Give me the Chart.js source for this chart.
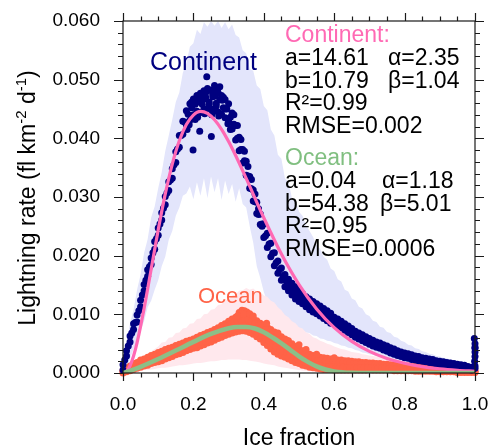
<!DOCTYPE html>
<html><head><meta charset="utf-8">
<script src="https://cdn.jsdelivr.net/npm/chart.js@4.4.1/dist/chart.umd.min.js"></script>
<style>html,body{margin:0;padding:0;background:#fff}#wrap{width:490px;height:447px;position:relative}</style>
</head><body><div id="wrap"><canvas id="c"></canvas></div>
<script>
// ice fraction grid (x)
const iceX=[
0,0.01,0.02,0.03,0.04,0.05,0.06,0.07,0.08,0.09,
0.10,0.11,0.12,0.13,0.14,0.15,0.16,0.17,0.18,0.19,
0.20,0.21,0.22,0.23,0.24,0.25,0.26,0.27,0.28,0.29,
0.30,0.31,0.32,0.33,0.34,0.35,0.36,0.37,0.38,0.39,
0.40,0.41,0.42,0.43,0.44,0.45,0.46,0.47,0.48,0.49,
0.50,0.51,0.52,0.53,0.54,0.55,0.56,0.57,0.58,0.59,
0.60,0.61,0.62,0.63,0.64,0.65,0.66,0.67,0.68,0.69,
0.70,0.71,0.72,0.73,0.74,0.75,0.76,0.77,0.78,0.79,
0.80,0.81,0.82,0.83,0.84,0.85,0.86,0.87,0.88,0.89,
0.90,0.91,0.92,0.93,0.94,0.95,0.96,0.97,0.98,0.99,
1.00];
// in-between ice fractions (x) for the extra rows of points
const midX=[
0.005,0.015,0.025,0.035,0.045,0.055,0.065,0.075,0.085,0.095,
0.105,0.115,0.125,0.135,0.145,0.155,0.165,0.175,0.185,0.195,
0.205,0.215,0.225,0.235,0.245,0.255,0.265,0.275,0.285,0.295,
0.305,0.315,0.325,0.335,0.345,0.355,0.365,0.375,0.385,0.395,
0.405,0.415,0.425,0.435,0.445,0.455,0.465,0.475,0.485,0.495,
0.505,0.515,0.525,0.535,0.545,0.555,0.565,0.575,0.585,0.595,
0.605,0.615,0.625,0.635,0.645,0.655,0.665,0.675,0.685,0.695,
0.705,0.715,0.725,0.735,0.745,0.755,0.765,0.775,0.785,0.795,
0.805,0.815,0.825,0.835,0.845,0.855,0.865,0.875,0.885,0.895,
0.905,0.915,0.925,0.935,0.945,0.955,0.965,0.975,0.985,0.995];
// continent scatter
const contA=[
.0014,.0038,.0063,.0084,.0099,.0124,.0151,.0176,.0196,.0224,
.0247,.0273,.0301,.0326,.0348,.0377,.0405,.0429,.0447,.0459,
.0467,.0473,.0477,.0481,.0485,.0482,.0480,.0478,.0473,.0466,
.0459,.0443,.0422,.0402,.0381,.0361,.0335,.0312,.0291,.0271,
.0254,.0238,.0221,.0205,.0191,.0179,.0168,.0160,.0153,.0147,
.0140,.0135,.0130,.0126,.0122,.0118,.0114,.0110,.0106,.0102,
.0095,.0092,.0088,.0084,.0080,.0076,.0071,.0068,.0065,.0062,
.0059,.0056,.0053,.0051,.0048,.0046,.0043,.0041,.0038,.0036,
.0034,.0033,.0031,.0029,.0028,.0026,.0025,.0024,.0023,.0021,
.0020,.0019,.0018,.0017,.0016,.0015,.0014,.0013,.0011,.0010,
.0042];
const contB=[
.0005,.0029,.0053,.0074,.0087,.0113,.0140,.0165,.0185,.0211,
.0235,.0261,.0287,.0311,.0332,.0359,.0385,.0407,.0423,.0431,
.0440,.0446,.0444,.0450,.0451,.0450,.0447,.0445,.0441,.0435,
.0429,.0416,.0397,.0379,.0358,.0337,.0315,.0293,.0272,.0253,
.0231,.0214,.0198,.0183,.0170,.0158,.0147,.0140,.0133,.0126,
.0122,.0118,.0113,.0108,.0104,.0101,.0097,.0093,.0089,.0085,
.0084,.0081,.0077,.0073,.0069,.0065,.0061,.0058,.0055,.0052,
.0049,.0046,.0044,.0042,.0039,.0037,.0034,.0032,.0030,.0028,
.0026,.0025,.0023,.0022,.0021,.0020,.0019,.0018,.0017,.0015,
.0014,.0013,.0012,.0011,.0010,.0009,.0008,.0007,.0006,.0005,
.0012];
const contM=[
.0022,.0046,.0068,.0086,.0106,.0133,.0158,.0181,.0205,.0229,
.0254,.0281,.0307,.0329,.0355,.0382,.0405,.0428,.0441,.0452,
.0458,.0463,.0458,.0470,.0462,.0471,.0460,.0466,.0452,.0450,
.0436,.0424,.0400,.0381,.0362,.0336,.0314,.0292,.0270,.0254,
.0234,.0220,.0204,.0188,.0176,.0165,.0156,.0148,.0141,.0135,
.0129,.0124,.0120,.0115,.0112,.0107,.0104,.0099,.0096,.0091,
.0088,.0084,.0080,.0077,.0072,.0069,.0065,.0062,.0059,.0056,
.0053,.0050,.0048,.0045,.0042,.0040,.0037,.0035,.0033,.0031,
.0030,.0028,.0026,.0025,.0023,.0022,.0022,.0020,.0019,.0018,
.0016,.0016,.0014,.0014,.0012,.0012,.0010,.0009,.0008,.0007];
const contExtraX=[0.238,0.275,0.247,0.260,0.255,0.235,0.268,0.285,0.225,0.215,0.245,0.265,0.290,0.205,0.212,0.232,0.252,0.272,0.298,0.182,0.188,0.199,0.251,0.218,0.305,0.315,0.325,0.335,0.345,0.355,0.365,0.375,0.385,0.395,0.998,1.0,1.0,1.0,1.0,0.999,1.0,0.195,0.228,0.262,0.282];
const contExtraY=[0.0505,0.0488,0.0482,0.0490,0.0475,0.0478,0.0484,0.0470,0.0470,0.0462,0.0458,0.0455,0.0450,0.0432,0.0436,0.0442,0.0440,0.0438,0.0425,0.0415,0.0423,0.0380,0.0403,0.0412,0.0415,0.0440,0.0422,0.0398,0.0378,0.0352,0.0330,0.0305,0.0280,0.0250,0.0059,0.0050,0.0044,0.0036,0.0028,0.0020,0.0008,0.0462,0.0466,0.0472,0.0465];
// ocean scatter
const oceanA=[
.0004,.0008,.0012,.0016,.0018,.0022,.0024,.0027,.0030,.0032,
.0035,.0037,.0040,.0042,.0044,.0047,.0049,.0051,.0054,.0056,
.0058,.0061,.0064,.0066,.0069,.0071,.0074,.0077,.0081,.0084,
.0088,.0092,.0095,.0098,.0099,.0098,.0096,.0093,.0089,.0085,
.0082,.0078,.0074,.0070,.0066,.0062,.0058,.0055,.0050,.0045,
.0041,.0038,.0035,.0032,.0030,.0029,.0027,.0026,.0025,.0024,
.0023,.0022,.0022,.0021,.0021,.0020,.0019,.0019,.0018,.0018,
.0017,.0017,.0016,.0016,.0015,.0015,.0014,.0014,.0013,.0013,
.0012,.0012,.0011,.0011,.0010,.0010,.0009,.0009,.0008,.0008,
.0008,.0007,.0007,.0007,.0006,.0006,.0006,.0005,.0005,.0005,
.0004];
const oceanB=[
.0002,.0005,.0008,.0011,.0013,.0016,.0018,.0020,.0023,.0025,
.0027,.0029,.0032,.0034,.0036,.0039,.0041,.0043,.0046,.0048,
.0050,.0052,.0055,.0057,.0060,.0062,.0065,.0068,.0071,.0074,
.0077,.0080,.0082,.0084,.0085,.0084,.0082,.0079,.0075,.0071,
.0067,.0062,.0057,.0053,.0049,.0045,.0042,.0039,.0035,.0031,
.0028,.0025,.0023,.0021,.0019,.0018,.0017,.0016,.0015,.0015,
.0014,.0014,.0014,.0013,.0013,.0013,.0012,.0012,.0012,.0012,
.0012,.0011,.0011,.0011,.0010,.0010,.0010,.0009,.0009,.0009,
.0008,.0008,.0008,.0007,.0007,.0007,.0006,.0006,.0006,.0005,
.0005,.0005,.0005,.0004,.0004,.0004,.0004,.0003,.0003,.0003,
.0002];
const oceanC=[
.0000,.0002,.0004,.0006,.0008,.0010,.0012,.0013,.0016,.0018,
.0019,.0021,.0024,.0026,.0028,.0031,.0033,.0035,.0038,.0040,
.0042,.0043,.0046,.0048,.0051,.0053,.0056,.0059,.0061,.0064,
.0066,.0068,.0070,.0071,.0072,.0071,.0069,.0066,.0062,.0058,
.0052,.0047,.0041,.0036,.0032,.0029,.0027,.0024,.0021,.0018,
.0016,.0013,.0012,.0010,.0009,.0008,.0007,.0006,.0006,.0006,
.0005,.0005,.0005,.0005,.0005,.0005,.0005,.0005,.0005,.0005,
.0006,.0005,.0005,.0005,.0005,.0005,.0005,.0004,.0004,.0004,
.0004,.0004,.0004,.0003,.0003,.0003,.0003,.0003,.0003,.0002,
.0002,.0002,.0002,.0002,.0002,.0001,.0001,.0001,.0001,.0001,
.0001];
const oceanD=[
.0005,.0009,.0012,.0015,.0017,.0020,.0022,.0025,.0028,.0030,
.0032,.0035,.0037,.0039,.0042,.0044,.0046,.0049,.0051,.0053,
.0055,.0058,.0061,.0063,.0066,.0068,.0071,.0074,.0078,.0081,
.0084,.0087,.0089,.0092,.0092,.0091,.0088,.0085,.0081,.0077,
.0074,.0070,.0066,.0062,.0058,.0054,.0051,.0047,.0043,.0039,
.0035,.0032,.0029,.0027,.0025,.0023,.0022,.0021,.0020,.0019,
.0018,.0018,.0018,.0017,.0017,.0016,.0016,.0015,.0015,.0015,
.0014,.0014,.0014,.0013,.0013,.0012,.0012,.0012,.0011,.0011,
.0010,.0010,.0010,.0009,.0009,.0008,.0008,.0008,.0007,.0007,
.0006,.0006,.0006,.0005,.0005,.0005,.0005,.0004,.0004,.0004];
const oceanE=[
.0002,.0005,.0007,.0009,.0011,.0014,.0016,.0018,.0020,.0022,
.0024,.0026,.0029,.0031,.0033,.0036,.0038,.0040,.0043,.0045,
.0047,.0049,.0052,.0054,.0056,.0059,.0062,.0065,.0067,.0070,
.0072,.0075,.0077,.0078,.0079,.0078,.0075,.0072,.0068,.0064,
.0060,.0055,.0050,.0045,.0041,.0038,.0035,.0032,.0028,.0024,
.0021,.0019,.0017,.0015,.0014,.0013,.0012,.0011,.0011,.0010,
.0010,.0010,.0010,.0009,.0009,.0009,.0009,.0009,.0009,.0009,
.0009,.0008,.0008,.0008,.0008,.0007,.0007,.0007,.0006,.0006,
.0006,.0006,.0006,.0005,.0005,.0005,.0005,.0004,.0004,.0004,
.0003,.0003,.0003,.0003,.0003,.0002,.0002,.0002,.0002,.0002];
const oceanExtraX=[0.330,0.338,0.345,0.352,0.360,0.342,0.408,0.440,0.465,0.500,0.520,0.550,0.600,0.325,0.370];
const oceanExtraY=[0.0103,0.0107,0.0106,0.0104,0.0101,0.0100,0.0085,0.0068,0.0056,0.0048,0.0040,0.0032,0.0026,0.0097,0.0097];
// shaded spread bands
const contUpper=[
.0020,.0052,.0085,.0108,.0142,.0168,.0205,.0228,.0265,.0284,
.0315,.0342,.0378,.0405,.0432,.0462,.0478,.0512,.0528,.0556,
.0562,.0585,.0578,.0598,.0590,.0600,.0592,.0600,.0588,.0598,
.0586,.0594,.0576,.0572,.0550,.0545,.0518,.0515,.0490,.0484,
.0455,.0448,.0415,.0405,.0372,.0365,.0332,.0326,.0298,.0294,
.0275,.0268,.0252,.0242,.0232,.0218,.0212,.0198,.0193,.0178,
.0174,.0160,.0156,.0142,.0139,.0127,.0124,.0113,.0110,.0100,
.0097,.0089,.0087,.0079,.0077,.0070,.0068,.0062,.0060,.0055,
.0053,.0048,.0047,.0042,.0041,.0037,.0036,.0033,.0032,.0029,
.0028,.0026,.0025,.0023,.0022,.0020,.0019,.0017,.0016,.0014,
.0013];
const contLower=[
.0000,.0010,.0024,.0041,.0053,.0072,.0088,.0112,.0123,.0142,
.0158,.0182,.0198,.0227,.0242,.0268,.0282,.0302,.0306,.0318,
.0296,.0325,.0302,.0332,.0298,.0335,.0308,.0332,.0295,.0328,
.0305,.0322,.0292,.0315,.0288,.0282,.0250,.0222,.0182,.0162,
.0138,.0122,.0104,.0097,.0090,.0088,.0084,.0083,.0079,.0078,
.0074,.0073,.0069,.0068,.0064,.0063,.0059,.0058,.0055,.0054,
.0051,.0050,.0047,.0046,.0043,.0042,.0039,.0038,.0035,.0034,
.0032,.0031,.0029,.0028,.0026,.0025,.0023,.0022,.0020,.0019,
.0018,.0017,.0016,.0015,.0014,.0013,.0012,.0011,.0010,.0010,
.0009,.0008,.0008,.0007,.0006,.0005,.0005,.0004,.0003,.0003,
.0002];
const oceanUpper=[
.0006,.0010,.0014,.0018,.0021,.0025,.0029,.0033,.0037,.0041,
.0045,.0052,.0053,.0060,.0061,.0068,.0069,.0076,.0077,.0084,
.0085,.0092,.0093,.0100,.0101,.0108,.0109,.0116,.0117,.0124,
.0125,.0132,.0134,.0140,.0141,.0145,.0142,.0144,.0139,.0138,
.0132,.0130,.0123,.0120,.0112,.0107,.0099,.0095,.0088,.0085,
.0078,.0076,.0069,.0067,.0061,.0059,.0055,.0053,.0050,.0048,
.0045,.0043,.0041,.0040,.0038,.0036,.0035,.0034,.0032,.0031,
.0030,.0029,.0028,.0027,.0026,.0025,.0024,.0023,.0022,.0021,
.0020,.0019,.0018,.0018,.0017,.0016,.0015,.0015,.0014,.0013,
.0012,.0012,.0011,.0011,.0010,.0009,.0009,.0008,.0008,.0007,
.0006];
const oceanLower=[
0,.0001,.0002,.0003,.0003,.0004,.0005,.0005,.0006,.0007,
.0008,.0009,.0009,.0010,.0011,.0012,.0013,.0013,.0014,.0015,
.0016,.0017,.0017,.0018,.0019,.0020,.0020,.0021,.0022,.0022,
.0023,.0023,.0023,.0023,.0022,.0022,.0021,.0020,.0019,.0018,
.0016,.0015,.0014,.0013,.0011,.0010,.0009,.0008,.0007,.0006,
.0005,.0004,.0004,.0003,.0003,.0002,.0002,.0001,.0001,.0001,
0,0,0,0,0,0,0,0,0,0,
0,0,0,0,0,0,0,0,0,0,
0,0,0,0,0,0,0,0,0,0,
0,0,0,0,0,0,0,0,0,0,
0];
// fitted curves
const contFitX=[0,0.01,0.02,0.03,0.04,0.06,0.08,0.10,0.12,0.14,0.16,0.18,0.20,0.22,0.24,0.26,0.28,0.30,0.32,0.35,0.40,0.45,0.50,0.55,0.60,0.65,0.70,0.75,0.80,0.85,0.90,0.95,1.00];
const contFitY=[0,0.00027,0.00124,0.00291,0.00519,0.01102,0.01769,0.02440,0.03049,0.03561,0.03958,0.04235,0.04397,0.04460,0.04426,0.04317,0.04154,0.03946,0.03707,0.03316,0.02646,0.02028,0.01508,0.01092,0.00774,0.00539,0.00369,0.00249,0.00166,0.00110,0.00072,0.00047,0.00030];
const oceanFitX=[0,0.02,0.05,0.10,0.15,0.20,0.25,0.30,0.325,0.35,0.375,0.40,0.425,0.45,0.475,0.50,0.525,0.55,0.575,0.60,0.65,0.70,0.80,0.90,1.00];
const oceanFitY=[0,0.00036,0.00105,0.00238,0.00382,0.00530,0.00666,0.00763,0.00786,0.00786,0.00759,0.00695,0.00605,0.00505,0.00395,0.00285,0.00190,0.00112,0.00060,0.00028,0.00004,0,0,0,0];
// tick labels
const xTickLabels=['0.0','0.2','0.4','0.6','0.8','1.0'];
const yTickLabels=['0.000','0.010','0.020','0.030','0.040','0.050','0.060'];

const FONT='"Liberation Sans", Arial, Helvetica, sans-serif';
Chart.defaults.font.family=FONT;
function pts(xs,ys){return xs.map((x,i)=>({x:x,y:ys[i]}));}
const contDots=pts(iceX,contA).concat(pts(iceX,contB),pts(midX,contM),pts(contExtraX,contExtraY));
const oceanDots=pts(iceX,oceanA).concat(pts(iceX,oceanB),pts(iceX,oceanC),pts(midX,oceanD),pts(midX,oceanE),pts(oceanExtraX,oceanExtraY));

const framePlugin={
  id:'frame',
  afterDraw(chart){
    const ctx=chart.ctx, a=chart.chartArea, xs=chart.scales.x, ys=chart.scales.y;
    ctx.save();
    ctx.strokeStyle='#1a1a1a'; ctx.lineWidth=1.2;
    ctx.strokeRect(a.left,a.top,a.right-a.left,a.bottom-a.top);
    ctx.beginPath();
    for(let i=0;i<=20;i++){
      const px=Math.round(xs.getPixelForValue(i*0.05))+0.5;
      const len=(i%4===0)?8:4.5;
      ctx.moveTo(px,a.bottom); ctx.lineTo(px,a.bottom+len);
      ctx.moveTo(px,a.top); ctx.lineTo(px,a.top-len);
    }
    for(let i=0;i<=30;i++){
      const py=Math.round(ys.getPixelForValue(i*0.002))+0.5;
      const len=(i%5===0)?9:5;
      ctx.moveTo(a.left,py); ctx.lineTo(a.left-len,py);
      ctx.moveTo(a.right,py); ctx.lineTo(a.right+len,py);
    }
    ctx.stroke();
    // axis titles
    ctx.fillStyle='#000';
    ctx.textAlign='center'; ctx.textBaseline='alphabetic';
    ctx.font='23px '+FONT;
    ctx.fillText('Ice fraction',(a.left+a.right)/2,445);
    const parts=[{t:'Lightning rate (fl km'},{t:'-2',s:1},{t:' d'},{t:'-1',s:1},{t:')'}];
    ctx.save();
    ctx.translate(35,198); ctx.rotate(-Math.PI/2);
    ctx.textAlign='left';
    let tot=0;
    parts.forEach(p=>{ctx.font=(p.s?'15px ':'23px ')+FONT; p.w=ctx.measureText(p.t).width; tot+=p.w;});
    let u=-tot/2;
    parts.forEach(p=>{ctx.font=(p.s?'15px ':'23px ')+FONT; ctx.fillText(p.t,u,p.s?-9:0); u+=p.w;});
    ctx.restore();
    // annotations
    ctx.textAlign='left';
    ctx.font='25px '+FONT; ctx.fillStyle='#000080';
    ctx.fillText('Continent',150,70);
    ctx.font='22px '+FONT; ctx.fillStyle='#ff6347';
    ctx.fillText('Ocean',198,303);
    ctx.font='23px '+FONT;
    ctx.fillStyle='#ff69b4'; ctx.fillText('Continent:',285,42);
    ctx.fillStyle='#000';
    ctx.fillText('a=14.61',285,65); ctx.fillText('\u03b1=2.35',388,65);
    ctx.fillText('b=10.79',285,87.5); ctx.fillText('\u03b2=1.04',388,87.5);
    ctx.fillText('R\u00b2=0.99',285,110);
    ctx.fillText('RMSE=0.002',285,132.5);
    ctx.fillStyle='#80bf80'; ctx.fillText('Ocean:',285,165);
    ctx.fillStyle='#000';
    ctx.fillText('a=0.04',285,188); ctx.fillText('\u03b1=1.18',382,188);
    ctx.fillText('b=54.38',285,210.5); ctx.fillText('\u03b2=5.01',380,210.5);
    ctx.fillText('R\u00b2=0.95',285,233);
    ctx.fillText('RMSE=0.0006',285,256);
    ctx.restore();
  }
};

const band={borderWidth:0,borderColor:'rgba(0,0,0,0)',pointRadius:0,tension:0};
new Chart(document.getElementById('c'),{
  type:'line',
  data:{datasets:[
    Object.assign({data:pts(iceX,contUpper),fill:'+1',backgroundColor:'#e3e5fb',order:10},band),
    Object.assign({data:pts(iceX,contLower),fill:false,order:10},band),
    Object.assign({data:pts(iceX,oceanUpper),fill:'+1',backgroundColor:'#ffe8ed',order:9},band),
    Object.assign({data:pts(iceX,oceanLower),fill:false,order:9},band),
    {data:oceanDots,showLine:false,pointRadius:3.5,pointBackgroundColor:'#ff6347',pointBorderWidth:0,pointBorderColor:'#ff6347',order:5,clip:false},
    {data:contDots,showLine:false,pointRadius:3.5,pointBackgroundColor:'#000080',pointBorderWidth:0,pointBorderColor:'#000080',order:4,clip:false},
    {data:pts(contFitX,contFitY),borderColor:'#ff69b4',borderWidth:3.2,pointRadius:0,fill:false,cubicInterpolationMode:'monotone',order:2},
    {data:pts(oceanFitX,oceanFitY),borderColor:'#8cbf87',borderWidth:4.5,pointRadius:0,fill:false,cubicInterpolationMode:'monotone',order:1}
  ]},
  options:{
    animation:false,responsive:true,maintainAspectRatio:false,events:[],
    layout:{padding:{left:0,right:15,top:21,bottom:0}},
    plugins:{legend:{display:false},tooltip:{enabled:false}},
    scales:{
      x:{type:'linear',min:0,max:1,
        ticks:{stepSize:0.2,autoSkip:false,maxRotation:0,padding:20,color:'#000',font:{size:19},
          callback:(v,i)=>xTickLabels[i]},
        grid:{display:false,drawTicks:false},border:{display:false},
        afterFit:s=>{s.height=74;s.paddingLeft=0;s.paddingRight=0;}},
      y:{type:'linear',min:0,max:0.06,
        ticks:{stepSize:0.01,autoSkip:false,padding:23,color:'#000',font:{size:19},
          callback:(v,i)=>yTickLabels[i]},
        grid:{display:false,drawTicks:false},border:{display:false},
        afterFit:s=>{s.width=123;s.paddingTop=0;s.paddingBottom=0;}}
    }
  },
  plugins:[framePlugin]
});
</script></body></html>
